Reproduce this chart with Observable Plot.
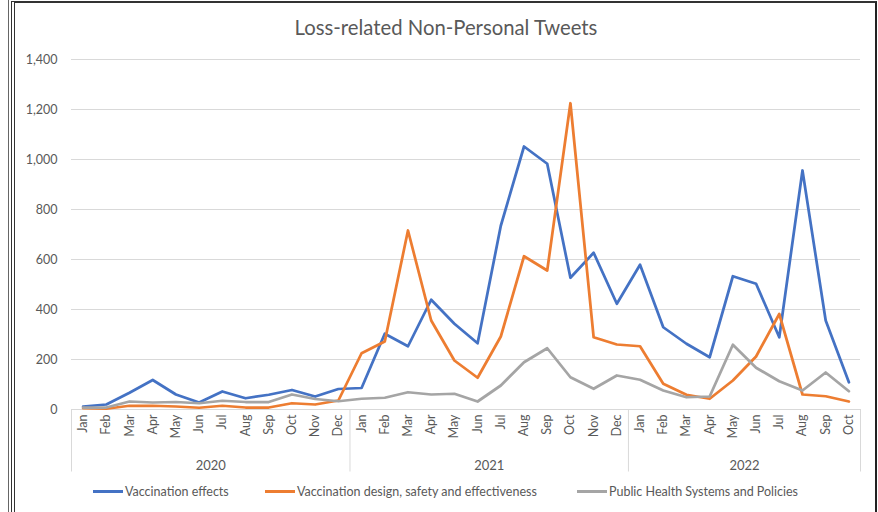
<!DOCTYPE html>
<html>
<head>
<meta charset="utf-8">
<script src="https://cdn.jsdelivr.net/npm/d3@7"></script>
<script src="https://cdn.jsdelivr.net/npm/@observablehq/plot@0.6"></script>
<style>
  body { margin: 0; background: #fff; font-family: Lato, "Open Sans", sans-serif; }
  #wrap { position: relative; width: 878px; height: 512px; overflow: hidden; background: #fff; }
  #title { height: 45px; box-sizing: border-box; padding-top: 16px; padding-left: 14px; text-align: center;
           font-size: 20.3px; line-height: 22px; color: #595959; }
  #chart svg { display: block; }
  #legend { position: relative; height: 34px; font-size: 12.5px; color: #595959; }
  .item { position: absolute; top: 6px; display: flex; align-items: center; white-space: nowrap; }
  .sw { display: inline-block; width: 30px; height: 3px; margin-right: 2px; }
  .frameLeft { position: absolute; left: 8px; top: 0; width: 1px; height: 512px; background: #666; }
  .frame { position: absolute; left: 11px; top: 1px; width: 866px; height: 530px; box-sizing: border-box;
           border-left: 4px double #333; border-top: 2px solid #333; border-right: 2px solid #222; pointer-events: none; }
</style>
</head>
<body>
<div id="wrap">
  <div id="title">Loss-related Non-Personal Tweets</div>
  <div id="chart"></div>
  <div id="legend"></div>
  <div class="frameLeft"></div>
  <div class="frame"></div>
</div>
<script>
// ---- data ----
const months = ["Jan","Feb","Mar","Apr","May","Jun","Jul","Aug","Sep","Oct","Nov","Dec",
                "Jan","Feb","Mar","Apr","May","Jun","Jul","Aug","Sep","Oct","Nov","Dec",
                "Jan","Feb","Mar","Apr","May","Jun","Jul","Aug","Sep","Oct"];
const years = ["2020", "2021", "2022"];
const monthsPerYear = [12, 12, 10];
const yTicks = [0, 200, 400, 600, 800, 1000, 1200, 1400];

const seriesNames = ["Vaccination effects", "Vaccination design, safety and effectiveness", "Public Health Systems and Policies"];
const seriesColors = ["#4472C4", "#ED7D31", "#A5A5A5"];

const vaccinationEffects = [12, 20, 67, 118, 60, 28, 72, 45, 59, 78, 52, 82,
                            86, 303, 253, 439, 343, 265, 735, 1052, 983, 527, 627, 423,
                            579, 329, 263, 209, 533, 503, 289, 956, 356, 109];
const vaccinationDesign = [5, 3, 15, 15, 12, 7, 15, 8, 8, 25, 20, 36,
                           225, 272, 716, 356, 196, 127, 292, 613, 556, 1225, 289, 260,
                           253, 103, 59, 43, 116, 212, 382, 60, 53, 32];
const publicHealth = [8, 8, 32, 28, 30, 25, 35, 30, 30, 60, 42, 33,
                      43, 47, 69, 60, 63, 32, 96, 189, 245, 129, 83, 136,
                      119, 76, 49, 52, 259, 167, 113, 76, 148, 73];

// ---- build tables ----
const seriesValues = [vaccinationEffects, vaccinationDesign, publicHealth];
const rows = [];
seriesValues.forEach((vals, s) => vals.forEach((v, i) => rows.push({i, v, name: seriesNames[s]})));

const yearRows = [];
const separators = [-0.5];
let start = 0;
years.forEach((yr, k) => {
  const n = monthsPerYear[k];
  yearRows.push({year: yr, mid: start + n / 2 - 0.5});
  start += n;
  separators.push(start - 0.5);
});

const chart = Plot.plot({
  width: 878,
  height: 433,
  marginLeft: 71,
  marginRight: 18,
  marginTop: 14,
  marginBottom: 69,
  style: {fontFamily: "Lato, 'Open Sans', sans-serif", fontSize: "12.5px", color: "#595959", background: "transparent"},
  x: {type: "linear", domain: [-0.5, months.length - 0.5], axis: null, label: null},
  y: {domain: [0, 1400], axis: null, label: null},
  color: {domain: seriesNames, range: seriesColors},
  marks: [
    Plot.gridY(yTicks, {stroke: "#d9d9d9", strokeOpacity: 1, strokeWidth: 1}),
    Plot.axisY(yTicks, {tickSize: 0, tickPadding: 14, tickFormat: d3.format(","), fill: "#595959", label: null}),
    Plot.axisX(d3.range(months.length), {tickSize: 0, tickPadding: 5, tickRotate: -90,
      tickFormat: i => months[i], fill: "#595959", label: null}),
    Plot.ruleX(separators, {x: d => d, y1: 0, y2: -250, stroke: "#d9d9d9", strokeOpacity: 1}),
    Plot.text(yearRows, {x: "mid", y: -225, text: "year", fontSize: 13, fill: "#595959"}),
    Plot.line(rows, {x: "i", y: "v", z: "name", stroke: "name", strokeWidth: 2.75,
      strokeLinejoin: "round", strokeLinecap: "round"})
  ]
});
document.getElementById("chart").append(chart);

// ---- legend ----
const legendLeft = [93, 265, 577];
const legend = document.getElementById("legend");
seriesNames.forEach((name, k) => {
  const item = document.createElement("div");
  item.className = "item";
  item.style.left = legendLeft[k] + "px";
  const sw = document.createElement("span");
  sw.className = "sw";
  sw.style.background = seriesColors[k];
  const label = document.createElement("span");
  label.textContent = name;
  item.append(sw, label);
  legend.append(item);
});
</script>
</body>
</html>
